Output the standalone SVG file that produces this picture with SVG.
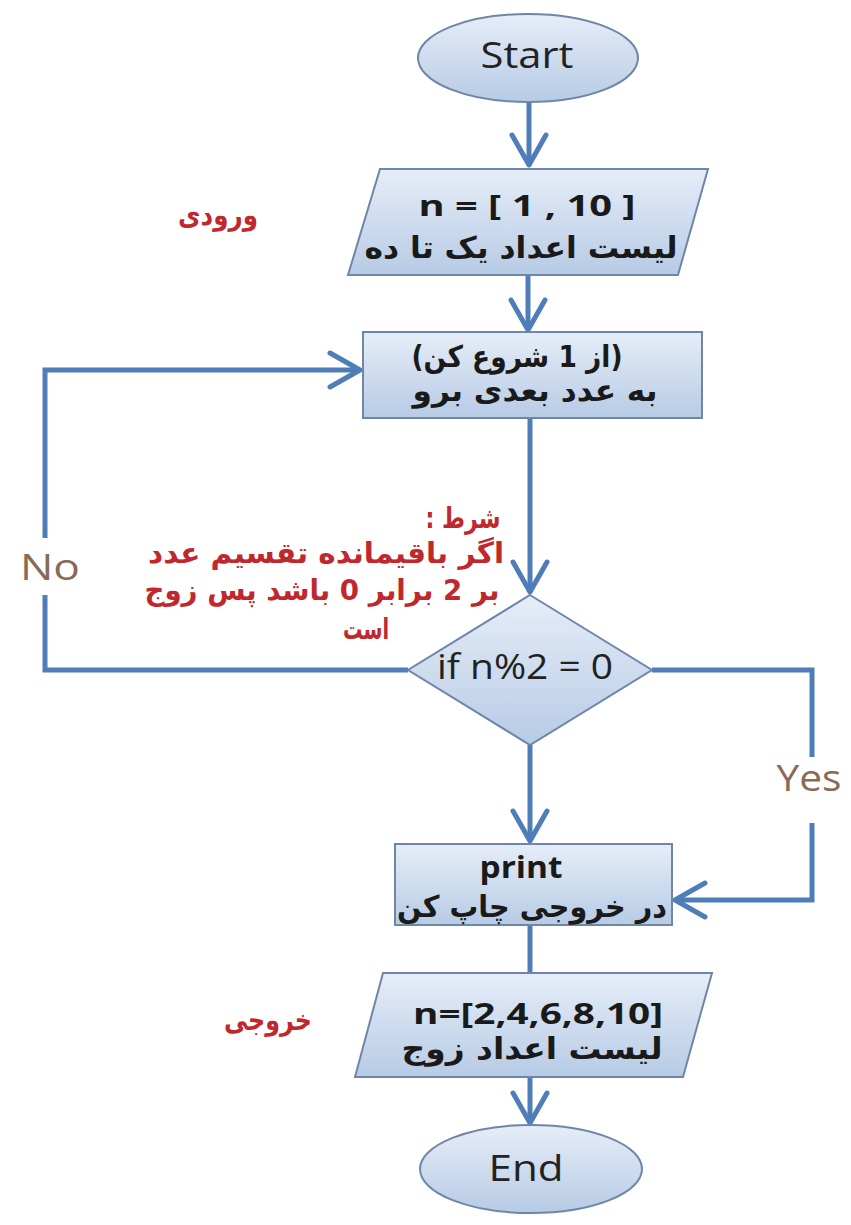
<svg xmlns="http://www.w3.org/2000/svg" width="851" height="1225" viewBox="0 0 851 1225">
<defs>
<linearGradient id="fillG" x1="0" y1="0" x2="0" y2="1">
<stop offset="0" stop-color="#e6edf8"/>
<stop offset="1" stop-color="#b7cbe5"/>
</linearGradient>
<marker id="arr" markerUnits="userSpaceOnUse" viewBox="-34 -20 40 40" refX="0" refY="0" markerWidth="40" markerHeight="40" orient="auto" overflow="visible">
<path d="M-30,-17 L0,0 L-30,17" fill="none" stroke="#4f7db8" stroke-width="5" stroke-linecap="round" stroke-linejoin="round"/>
</marker>
</defs>
<style>
.shape{fill:url(#fillG);stroke:#6f86a8;stroke-width:2}
.con{fill:none;stroke:#4f7db8;stroke-width:5}
.lat{font-family:"Open Sans","Liberation Sans",sans-serif;fill:#222;text-anchor:middle}
.latb{font-family:"Open Sans","Liberation Sans",sans-serif;font-weight:bold;fill:#1a1a1a;text-anchor:middle}
.fa{font-family:"DejaVu Sans","Noto Sans",sans-serif;font-weight:bold;fill:#1a1a1a;text-anchor:middle;direction:rtl}
.red{font-family:"DejaVu Sans","Noto Sans",sans-serif;font-weight:bold;fill:#c0282e;text-anchor:middle;direction:rtl}
.lbl{font-family:"Open Sans","Liberation Sans",sans-serif;fill:#8a6a55;text-anchor:middle}
</style>
<rect width="851" height="1225" fill="#ffffff"/>

<g id="connectors">
<path class="con" d="M529,102 L529,165" marker-end="url(#arr)"/>
<path class="con" d="M528,275 L528,330" marker-end="url(#arr)"/>
<path class="con" d="M530,418 L530,592" marker-end="url(#arr)"/>
<path class="con" d="M530,745 L530,841" marker-end="url(#arr)"/>
<path class="con" d="M652,670 L812,670 L812,757"/>
<path class="con" d="M812,823 L812,900 L675,900" marker-end="url(#arr)"/>
<path class="con" d="M408,670 L45,670 L45,595"/>
<path class="con" d="M45,538 L45,370 L360,370" marker-end="url(#arr)"/>
<path class="con" d="M530,925 L530,973"/>
<path class="con" d="M530,1077 L530,1123" marker-end="url(#arr)"/>
</g>

<g id="start">
<ellipse class="shape" cx="528" cy="58" rx="110" ry="44"/>
<text class="lat" x="527" y="68" font-size="36" textLength="93" lengthAdjust="spacingAndGlyphs">Start</text>
</g>

<g id="input">
<polygon class="shape" points="380,169 708,169 678,275 348,275"/>
<text class="latb" x="527" y="216" font-size="29" textLength="217" lengthAdjust="spacingAndGlyphs">n = [ 1 , 10 ]</text>
<text class="fa" x="521" y="258" font-size="30" textLength="313" lengthAdjust="spacingAndGlyphs">لیست اعداد یک تا ده</text>
</g>

<g id="input-label">
<text class="red" x="218" y="225" font-size="29" textLength="80" lengthAdjust="spacingAndGlyphs">ورودی</text>
</g>

<g id="process">
<rect class="shape" x="363" y="332" width="339" height="86"/>
<text class="fa" x="517" y="367" font-size="30" textLength="211" lengthAdjust="spacingAndGlyphs">(از 1 شروع کن)</text>
<text class="fa" x="535" y="401" font-size="30" textLength="245" lengthAdjust="spacingAndGlyphs">به عدد بعدی برو</text>
</g>

<g id="condition-note">
<text class="red" x="463" y="528" font-size="29" textLength="75" lengthAdjust="spacingAndGlyphs">شرط :</text>
<text class="red" x="326" y="563" font-size="29" textLength="356" lengthAdjust="spacingAndGlyphs">اگر باقیمانده تقسیم عدد</text>
<text class="red" x="322" y="600" font-size="29" textLength="355" lengthAdjust="spacingAndGlyphs">بر 2 برابر 0 باشد پس زوج</text>
<text class="red" x="366" y="639" font-size="29" textLength="46" lengthAdjust="spacingAndGlyphs">است</text>
</g>

<g id="decision">
<polygon class="shape" points="530,595 652,670 530,745 408,670"/>
<text class="lat" x="525" y="679" font-size="34" textLength="176" lengthAdjust="spacingAndGlyphs">if n%2 = 0</text>
</g>

<g id="label-no">
<text class="lbl" x="50" y="580" font-size="36" textLength="60" lengthAdjust="spacingAndGlyphs">No</text>
</g>

<g id="label-yes">
<text class="lbl" x="809" y="791" font-size="36" textLength="65" lengthAdjust="spacingAndGlyphs">Yes</text>
</g>

<g id="print">
<rect class="shape" x="395" y="844" width="277" height="81"/>
<text class="latb" x="521" y="878" font-size="30" textLength="83" lengthAdjust="spacingAndGlyphs">print</text>
<text class="fa" x="532" y="917" font-size="30" textLength="270" lengthAdjust="spacingAndGlyphs">در خروجی چاپ کن</text>
</g>

<g id="output">
<polygon class="shape" points="383,973 712,973 683,1077 355,1077"/>
<text class="latb" x="538" y="1024" font-size="29" textLength="250" lengthAdjust="spacingAndGlyphs">n=[2,4,6,8,10]</text>
<text class="fa" x="532" y="1059" font-size="30" textLength="261" lengthAdjust="spacingAndGlyphs">لیست اعداد زوج</text>
</g>

<g id="output-label">
<text class="red" x="268" y="1030" font-size="29" textLength="88" lengthAdjust="spacingAndGlyphs">خروجی</text>
</g>

<g id="end">
<ellipse class="shape" cx="531" cy="1169" rx="111" ry="44"/>
<text class="lat" x="526" y="1181" font-size="36" textLength="75" lengthAdjust="spacingAndGlyphs">End</text>
</g>
</svg>
